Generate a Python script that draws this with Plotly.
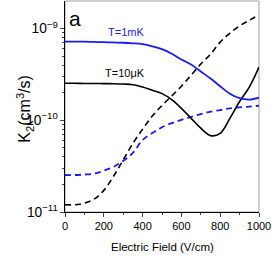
import plotly.graph_objects as go

field = [0, 50, 100, 150, 200, 250, 300, 350, 400, 450, 500,
         550, 600, 650, 700, 750, 800, 850, 900, 950, 1000]

k2_1mK_solid = [7.2e-10, 7.2e-10, 7.2e-10, 7.15e-10, 7.1e-10, 7.05e-10, 7.0e-10, 6.9e-10,
                6.75e-10, 6.4e-10, 5.95e-10, 5.3e-10, 4.6e-10, 4.05e-10, 3.4e-10, 2.85e-10,
                2.35e-10, 1.95e-10, 1.74e-10, 1.68e-10, 1.76e-10]
k2_10uK_solid = [2.53e-10, 2.53e-10, 2.52e-10, 2.52e-10, 2.51e-10, 2.5e-10, 2.48e-10, 2.44e-10,
                 2.3e-10, 2.12e-10, 1.95e-10, 1.68e-10, 1.35e-10, 1.05e-10, 8.2e-11, 6.8e-11,
                 7.2e-11, 1.05e-10, 1.6e-10, 2.3e-10, 3.8e-10]
k2_10uK_dash = [1.2e-11, 1.2e-11, 1.25e-11, 1.38e-11, 1.72e-11, 2.45e-11, 3.7e-11, 5.6e-11,
                8.0e-11, 1.11e-10, 1.45e-10, 1.84e-10, 2.35e-10, 3.1e-10, 4.1e-10, 5.25e-10,
                7.1e-10, 8.9e-10, 1.07e-9, 1.23e-9, 1.41e-9]
k2_1mK_dash = [2.53e-11, 2.53e-11, 2.56e-11, 2.62e-11, 2.82e-11, 3.1e-11, 3.6e-11, 4.4e-11,
               6.1e-11, 7.25e-11, 8.4e-11, 9.3e-11, 1.01e-10, 1.09e-10, 1.17e-10, 1.24e-10,
               1.29e-10, 1.35e-10, 1.38e-10, 1.41e-10, 1.44e-10]

x_ticks = [0, 200, 400, 600, 800, 1000]

BLUE = "#1a1aff"
FONT = "Arial, Liberation Sans, sans-serif"

fig = go.Figure()
fig.add_trace(go.Scatter(x=field, y=k2_10uK_dash, mode="lines",
                         line=dict(color="black", width=1.6, dash="6px,4px", shape="spline")))
fig.add_trace(go.Scatter(x=field, y=k2_1mK_dash, mode="lines",
                         line=dict(color=BLUE, width=1.8, dash="6px,4px", shape="spline")))
fig.add_trace(go.Scatter(x=field, y=k2_10uK_solid, mode="lines",
                         line=dict(color="black", width=1.6, shape="spline")))
fig.add_trace(go.Scatter(x=field, y=k2_1mK_solid, mode="lines",
                         line=dict(color=BLUE, width=1.8, shape="spline")))

fig.update_layout(
    width=272, height=273,
    margin=dict(l=65, r=10, t=1, b=61),
    paper_bgcolor="white", plot_bgcolor="white",
    showlegend=False,
    font=dict(family=FONT, size=11, color="black"),
    shapes=[dict(type="rect", xref="paper", yref="paper", x0=0, x1=1, y0=0, y1=1,
                 line=dict(color="#a0a0a0", width=1), layer="below")],
    annotations=[
        dict(text="a", xref="x", yref="paper", x=0, y=0.915, xanchor="left", yanchor="middle",
             xshift=2, showarrow=False, font=dict(size=21, family=FONT)),
        dict(text="T=1mK", xref="x", yref="paper", x=210, y=0.855, xanchor="left",
             yanchor="middle", showarrow=False, font=dict(size=11, color=BLUE, family=FONT)),
        dict(text="T=10μK", xref="x", yref="paper", x=195, y=0.66, xanchor="left",
             yanchor="middle", showarrow=False, font=dict(size=11, color="black", family=FONT)),
        dict(text="K<sub>2</sub>(cm<sup>3</sup>/s)", xref="paper", yref="paper",
             x=-0.208, y=0.488, xanchor="center", yanchor="middle", textangle=-90,
             showarrow=False, font=dict(size=16, family=FONT)),
        dict(text="Electric Field (V/cm)", xref="paper", yref="paper", x=0.5, y=-0.168,
             xanchor="center", yanchor="middle", showarrow=False,
             font=dict(size=11.5, family=FONT)),
    ],
)

fig.update_xaxes(range=[0, 1000], tickvals=x_ticks, ticks="outside", ticklen=4,
                 showline=True, linecolor="black", linewidth=1, showgrid=False, zeroline=False,
                 tickfont=dict(size=11), ticklabeloverflow="allow",
                 minor=dict(ticks="outside", ticklen=2, dtick=100, showgrid=False))
fig.update_yaxes(type="log", range=[-11, -8.70], dtick=1, exponentformat="power",
                 ticks="outside", ticklen=4, showline=True, linecolor="black", linewidth=1,
                 showgrid=False, zeroline=False, tickfont=dict(size=11),
                 minor=dict(ticks="outside", ticklen=2, dtick="D1", showgrid=False))

fig.write_html("out.html", config={"displayModeBar": False},
               post_script="document.body.style.margin='0';document.body.style.padding='0';")
